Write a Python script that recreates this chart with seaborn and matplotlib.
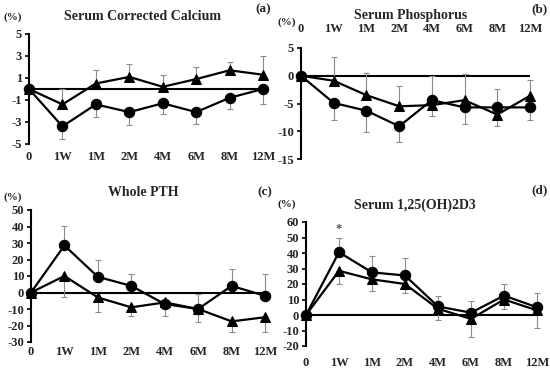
import numpy as np
import seaborn as sns
import matplotlib
matplotlib.use("Agg")
import matplotlib.pyplot as plt

# time points and labels
times = ["0", "1W", "1M", "2M", "4M", "6M", "8M", "12M"]

# (a) serum corrected calcium
ca_tri = [0, -1.4, 0.5, 1.1, 0.2, 0.9, 1.7, 1.3]
ca_tri_err = [0, 1.4, 1.2, 1.2, 1.1, 1.1, 0.8, 1.7]
ca_cir = [0, -3.4, -1.4, -2.1, -1.3, -2.1, -0.8, 0]
ca_cir_err = [0, 1.1, 1.1, 1.2, 1.0, 1.1, 1.0, 1.4]

# (b) serum phosphorus
p_tri = [0, -0.9, -3.5, -5.5, -5.3, -4.4, -7.0, -3.6]
p_tri_err = [0, 4.2, 4.0, 3.6, 5.3, 4.8, 4.7, 2.9]
p_cir = [0, -4.9, -6.3, -9.1, -4.4, -5.7, -5.7, -5.7]
p_cir_err = [0, 3.0, 3.8, 2.9, 2.8, 3.0, 3.4, 2.2]

# (c) whole PTH
pth_cir = [0, 28.5, 9.5, 4, -7, -10, 4, -2]
pth_cir_err = [0, 12, 10, 7, 0, 9, 10, 13]
pth_tri = [0, 10, -3, -9, -6, -10, -17.5, -15]
pth_tri_err = [0, 13, 9, 5, 8, 8, 6.5, 9]

# (d) serum 1,25(OH)2D3
vd_cir = [0, 40.5, 27.5, 25.5, 5.5, 1.5, 12.5, 5]
vd_cir_err = [0, 9.5, 10.5, 11.5, 7, 7.5, 7.5, 9]
vd_tri = [0, 28.5, 23, 20, 4, -2.5, 10, 3]
vd_tri_err = [0, 8.5, 7.5, 6, 7, 11.5, 6, 11.5]

sns.set_style("white")
plt.rcParams['font.family'] = ['Liberation Serif', 'DejaVu Serif']
plt.rcParams['font.weight'] = 'bold'
plt.rcParams['axes.unicode_minus'] = False

W, H = 550, 369
fig = plt.figure(figsize=(5.5, 3.69), dpi=100)


def px_axes(left, right, top, bottom):
    return fig.add_axes([left / W, (H - bottom) / H, (right - left) / W, (bottom - top) / H])


def px_text(x, y, s, size):
    fig.text(x / W, (H - y) / H, s, ha='center', va='center', fontsize=size, fontweight='bold')


def panel(ax, tri, tri_err, tri_up, cir, cir_err, cir_up, ylim, yticks, top=False, pad=4):
    x = np.arange(len(times))
    for vals, err, up in [(tri, tri_err, tri_up), (cir, cir_err, cir_up)]:
        e = np.array(err)
        z = np.zeros_like(e)
        yerr = [z, e] if up else [e, z]
        ax.errorbar(x, vals, yerr=yerr, fmt='none', ecolor='#8c8c8c', elinewidth=0.8,
                    capsize=2, capthick=0.8, zorder=2, clip_on=False)
    ax.axhline(0, color='black', lw=1.5, zorder=1)
    sns.lineplot(x=x, y=tri, marker='^', color='black', markersize=7, linewidth=1.6,
                 markeredgecolor='black', ax=ax, zorder=3, clip_on=False)
    sns.lineplot(x=x, y=cir, marker='o', color='black', markersize=7.5, linewidth=1.6,
                 markeredgecolor='black', ax=ax, zorder=3, clip_on=False)
    ax.set_xlim(0, 7)
    ax.set_ylim(*ylim)
    ax.set_yticks(yticks)
    ax.set_xticks(x)
    ax.set_xticklabels(times)
    for s in ['right', 'top', 'bottom']:
        ax.spines[s].set_visible(False)
    ax.spines['left'].set_color('black')
    ax.spines['left'].set_linewidth(1.5)
    ax.tick_params(axis='y', direction='out', length=3, width=1.2, color='black',
                   left=True, labelsize=9, pad=2)
    ax.tick_params(axis='x', length=0, labelsize=9, pad=pad)
    if top:
        ax.xaxis.tick_top()
        ax.tick_params(axis='x', length=0, pad=pad)
    ax.set_xlabel('')
    ax.set_ylabel('')
    for lab in ax.get_xticklabels() + ax.get_yticklabels():
        lab.set_fontweight('bold')


axa = px_axes(29, 263, 34, 144)
panel(axa, ca_tri, ca_tri_err, True, ca_cir, ca_cir_err, False, (-5, 5), [-5, -3, -1, 1, 3, 5], pad=5)

axb = px_axes(301, 530, 48, 159)
panel(axb, p_tri, p_tri_err, True, p_cir, p_cir_err, False, (-15, 5), [5, 0, -5, -10, -15], top=True, pad=9)

axc = px_axes(31, 265, 210, 342)
panel(axc, pth_tri, pth_tri_err, False, pth_cir, pth_cir_err, True, (-30, 50), np.arange(-30, 51, 10), pad=3)

axd = px_axes(306, 537, 222, 346)
panel(axd, vd_tri, vd_tri_err, False, vd_cir, vd_cir_err, True, (-20, 60), np.arange(-20, 61, 10), pad=8)
axd.text(1, 55.5, '*', ha='center', va='center', fontsize=9, color='#555555')

# titles and labels
px_text(143, 16, 'Serum Corrected Calcium', 10)
px_text(411, 16, 'Serum Phosphorus', 10)
px_text(143, 192, 'Whole PTH', 10)
px_text(415, 205, 'Serum 1,25(OH)2D3', 10)
px_text(13, 17, '(%)', 8)
px_text(287, 22, '(%)', 8)
px_text(13, 197, '(%)', 8)
px_text(287, 204, '(%)', 8)
px_text(263, 9, '(a)', 9.5)
px_text(540, 9, '(b)', 9.5)
px_text(265, 192, '(c)', 9.5)
px_text(540, 190, '(d)', 9.5)

fig.savefig('out.png', dpi=100)
